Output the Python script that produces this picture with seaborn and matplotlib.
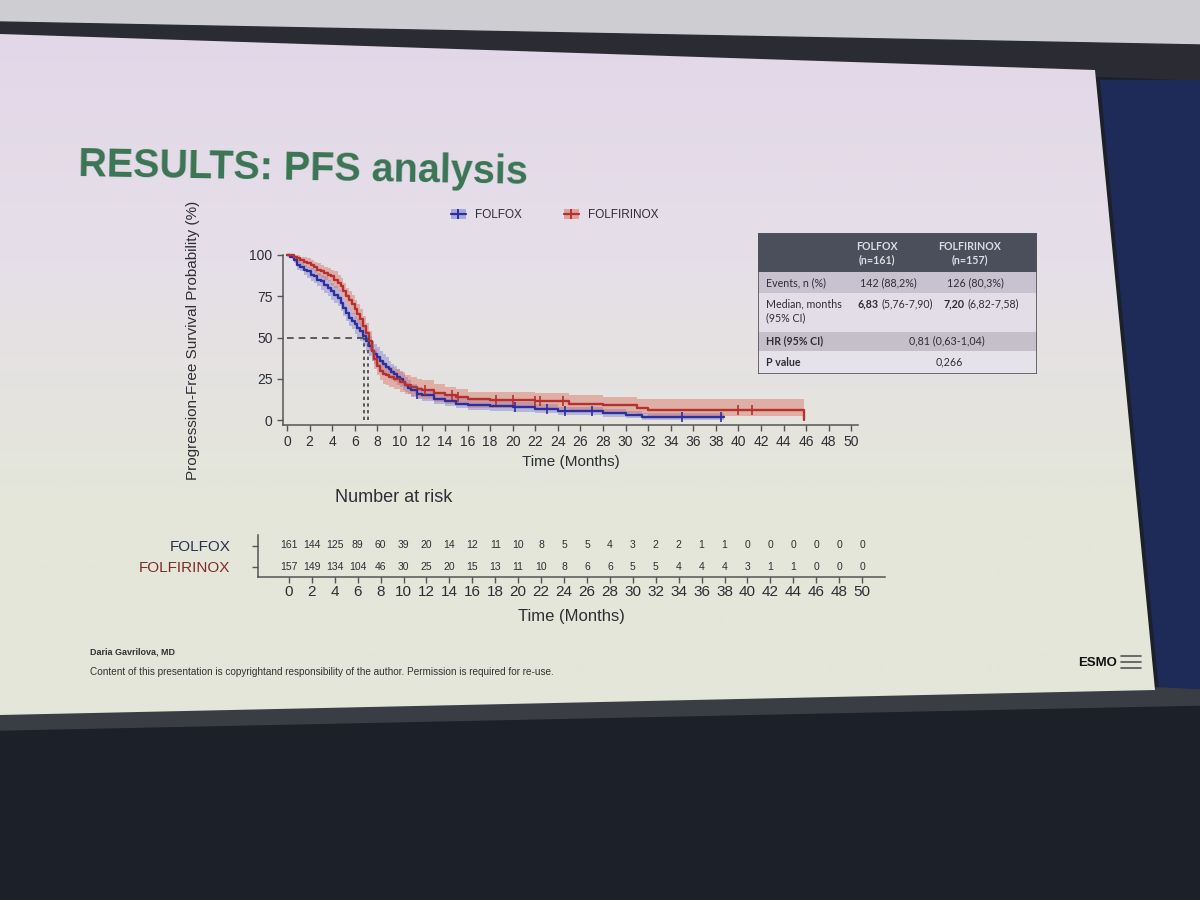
import numpy as np
import matplotlib
matplotlib.use("Agg")
import matplotlib.pyplot as plt
from matplotlib.patches import Polygon, Rectangle, Patch
from matplotlib.lines import Line2D
from matplotlib.colors import LinearSegmentedColormap
import seaborn as sns
import pandas as pd

sns.set_theme(style="white")
plt.rcParams['font.family'] = ['Liberation Sans', 'DejaVu Sans']

# ---- data ----
arms = ["FOLFOX", "FOLFIRINOX"]

folfox_t = [0, 0.3, 0.6, 0.9, 1.2, 1.5, 1.8, 2.1, 2.4, 2.7,
            3.0, 3.3, 3.6, 3.9, 4.2, 4.5, 4.75, 5.0, 5.25, 5.5,
            5.75, 6.0, 6.25, 6.5, 6.75, 7.0, 7.25, 7.5, 7.75, 8.0,
            8.25, 8.5, 8.75, 9.0, 9.25, 9.5, 9.75, 10.0, 10.25, 10.5,
            10.75, 11.0, 11.5, 12, 13, 14, 15, 16, 18, 20,
            22, 24, 28, 30, 31.5, 38.7]
folfox_s = [100, 99, 97, 94, 93, 91, 90, 88, 87, 85,
            84, 82, 80, 78, 76, 74, 71, 68, 65, 62,
            60, 58, 56, 54, 51, 48, 45, 42, 40, 38,
            36, 34, 32, 31, 29, 28, 26, 25, 23, 21,
            19.5, 18, 16, 15, 13, 11.5, 10, 9, 8.7, 8,
            6.7, 5.4, 4.2, 3.3, 1.9, 1.9]
folfox_lo = [100, 98, 95, 91, 90, 88, 86, 84, 83, 81,
             79, 77, 75, 73, 71, 69, 66, 63, 60, 57,
             55, 52, 50, 48, 45, 42, 39, 36, 34, 32,
             30, 28, 27, 26, 24, 23, 21, 20, 18, 17,
             15.5, 14, 12.5, 11.5, 10, 8.5, 7, 6, 5.5, 5,
             4, 3, 2, 1.5, 0.3, 0.3]
folfox_hi = [100, 100, 99, 97, 96, 94, 93, 92, 91, 89,
             88, 87, 85, 83, 81, 79, 76, 73, 70, 67,
             65, 63, 61, 60, 57, 54, 51, 48, 46, 44,
             42, 40, 38, 36, 34, 33, 31, 30, 28, 26,
             24, 22, 20, 19, 17, 15.5, 14, 12.5, 12, 11,
             9.5, 8, 6.5, 5.5, 4, 4]
folfox_cens = [11.5, 20.2, 23.0, 24.6, 27.0, 35.0, 38.5]

folfirinox_t = [0, 0.3, 0.6, 0.9, 1.2, 1.5, 1.8, 2.1, 2.4, 2.7,
                3.0, 3.3, 3.6, 3.9, 4.2, 4.5, 4.75, 5.0, 5.25, 5.5,
                5.75, 6.0, 6.25, 6.5, 6.75, 7.0, 7.25, 7.5, 7.75, 8.0,
                8.25, 8.5, 8.75, 9.0, 9.5, 10.0, 10.5, 11.0, 11.5, 12,
                13, 14, 15, 16, 18, 22, 25, 28, 31, 32,
                45.8]
folfirinox_s = [100, 100, 99, 98, 97, 96, 95, 94, 93, 91,
                90, 89, 88, 87, 85, 83, 81, 78, 75, 73,
                70, 67, 64, 61, 57, 53, 48, 42, 37, 33,
                30, 28, 27, 26, 25, 23, 21.5, 20, 19, 18,
                16.5, 15, 14, 12.5, 12, 11.5, 10, 9, 7.3, 5.8,
                0]
folfirinox_lo = [100, 98, 97, 95, 94, 93, 92, 91, 89, 87,
                 86, 85, 84, 82, 80, 78, 76, 73, 70, 67,
                 64, 61, 58, 55, 51, 47, 42, 36, 31, 27,
                 24, 22, 21, 20, 19, 17, 15.5, 14.5, 13.5, 12.5,
                 11, 10, 9, 7.5, 7, 6.5, 5.5, 4.5, 3.5, 2.5,
                 0]
folfirinox_hi = [100, 100, 100, 100, 99, 99, 98, 97, 96, 95,
                 94, 93, 92, 91, 90, 88, 86, 83, 80, 78,
                 76, 73, 70, 67, 63, 59, 54, 48, 43, 39,
                 36, 34, 33, 32, 31, 29, 27.5, 26, 25, 24,
                 22, 20, 19, 17, 17, 16.5, 15, 14, 12.5, 12.5,
                 0]
folfirinox_cens = [12.2, 14.6, 15.2, 18.5, 20.0, 22.0, 22.4, 24.5, 40.0, 41.2]

medians = [6.83, 7.20]

risk_times = list(range(0, 51, 2))
folfox_risk = [161, 144, 125, 89, 60, 39, 20, 14, 12, 11, 10, 8, 5, 5, 4, 3, 2, 2, 1, 1, 0, 0, 0, 0, 0, 0]
folfirinox_risk = [157, 149, 134, 104, 46, 30, 25, 20, 15, 13, 11, 10, 8, 6, 6, 5, 5, 4, 4, 4, 3, 1, 1, 0, 0, 0]

table_rows = ["Events, n (%)", "Median, months\n(95% CI)", "HR (95% CI)", "P value"]
table_events = ["142 (88,2%)", "126 (80,3%)"]
table_median = [("6,83", "(5,76-7,90)"), ("7,20", "(6,82-7,58)")]
table_hr = "0,81 (0,63-1,04)"
table_p = "0,266"

line_col = {"FOLFOX": "#2c2f9c", "FOLFIRINOX": "#b5302e"}
band_col = {"FOLFOX": "#7b7fd6", "FOLFIRINOX": "#d9705f"}
label_col = {"FOLFOX": "#2c3050", "FOLFIRINOX": "#7e2b2b"}
txt = "#2e2e35"
green = "#3a7554"

W, H = 1200, 900
fig = plt.figure(figsize=(12, 9), dpi=100)


def box(x0, y0, x1, y1):
    return [x0 / W, 1 - y1 / H, (x1 - x0) / W, (y1 - y0) / H]


def fx(x):
    return x / W


def fy(y):
    return 1 - y / H


# ---- photographed room / slide background ----
bg = fig.add_axes([0, 0, 1, 1])
bg.add_patch(Rectangle((0, 0), W, H, color="#1c2029", zorder=0))
bg.add_patch(Polygon([(0, 0), (W, 0), (W, 45), (0, 22)], color="#cdcdd2", zorder=0))
bg.add_patch(Polygon([(0, 22), (W, 45), (W, 80), (0, 34)], color="#2b2c33", zorder=0))
bg.add_patch(Polygon([(1100, 80), (W, 80), (W, 700), (1160, 700)], color="#1e2a58", zorder=0))
bg.add_patch(Polygon([(0, 712), (1160, 688), (W, 690), (W, 705), (0, 730)], color="#3a3d44", zorder=0))
slide = Polygon([(0, 34), (1095, 70), (1155, 690), (0, 715)], closed=True,
                facecolor="none", edgecolor="none")
bg.add_patch(slide)
slide_cmap = LinearSegmentedColormap.from_list("slide", ["#e2d7e8", "#e6dfe8", "#e4e6da", "#e3e6d8"])
im = bg.imshow(np.linspace(0, 1, 256)[:, None], extent=(0, 1160, 715, 30),
               cmap=slide_cmap, aspect="auto", zorder=2)
im.set_clip_path(slide)
bg.set_xlim(0, W)
bg.set_ylim(H, 0)
bg.axis("off")

# ---- title ----
fig.text(fx(78), fy(176), "RESULTS: PFS analysis", color=green, fontsize=28.5, fontweight="bold",
         ha="left", va="baseline", rotation=-1.0, rotation_mode="anchor")

# ---- Kaplan-Meier plot ----
ax = fig.add_axes(box(283, 250, 858, 425))
ax.patch.set_alpha(0)

curves = {
    "FOLFOX": (folfox_t, folfox_s, folfox_lo, folfox_hi, folfox_cens),
    "FOLFIRINOX": (folfirinox_t, folfirinox_s, folfirinox_lo, folfirinox_hi, folfirinox_cens),
}

frames = []
cens_frames = []
for arm, (t, s, lo, hi, cens) in curves.items():
    ax.fill_between(t, lo, hi, step="post", color=band_col[arm], alpha=0.45, lw=0)
    frames.append(pd.DataFrame({"time": t, "surv": s, "arm": arm}))
    t_arr, s_arr = np.asarray(t), np.asarray(s)
    idx = np.searchsorted(t_arr, cens, side="right") - 1
    cens_frames.append(pd.DataFrame({"time": cens, "surv": s_arr[idx], "arm": arm}))
km = pd.concat(frames, ignore_index=True)
km_cens = pd.concat(cens_frames, ignore_index=True)

sns.lineplot(data=km, x="time", y="surv", hue="arm", palette=line_col, estimator=None,
             sort=False, drawstyle="steps-post", lw=1.7, legend=False, ax=ax)
for arm in arms:
    sub = km_cens[km_cens["arm"] == arm]
    ax.plot(sub["time"], sub["surv"], ls="none", marker="|", ms=7, mew=1.2, color=line_col[arm])

ax.plot([0, medians[0]], [50, 50], ls=(0, (4, 3)), color="#444", lw=1.2)
for m in medians:
    ax.plot([m, m], [0, 50], ls=(0, (2, 2)), color="#444", lw=1.2)

ax.set_xlim(-0.35, 50.6)
ax.set_ylim(-3, 103)
ax.set_xticks(range(0, 51, 2))
ax.set_yticks([0, 25, 50, 75, 100])
for s in ["top", "right"]:
    ax.spines[s].set_visible(False)
for s in ["left", "bottom"]:
    ax.spines[s].set_color("#555")
    ax.spines[s].set_linewidth(1.1)
ax.spines["left"].set_bounds(-3, 100)
ax.tick_params(axis="both", direction="out", length=4, width=1, color="#555",
               labelsize=10, labelcolor=txt, left=True, bottom=True)
ax.set_xlabel("Time (Months)", fontsize=11, color=txt, labelpad=4)
ax.set_ylabel("")

fig.text(fx(193), fy(340), "Progression-Free Survival Probability (%)", rotation=90,
         ha="center", va="center", fontsize=11, color=txt)

handles = [(Patch(facecolor=band_col[a], alpha=0.55, edgecolor="none"),
            Line2D([], [], color=line_col[a], lw=1.6, marker="|", ms=7, mew=1.4)) for a in arms]
fig.legend(handles, arms, loc="center left", bbox_to_anchor=(fx(440), fy(215)), ncol=2,
           frameon=False, fontsize=8.5, handlelength=1.3, handleheight=0.9,
           handletextpad=0.8, columnspacing=3.5, labelcolor=txt)

# ---- summary table ----
tb = fig.add_axes(box(758, 233, 1037, 374))
tb.set_xlim(758, 1037)
tb.set_ylim(374, 233)
tb.axis("off")
bands = [(233, 272, "#4b4f5c"), (272, 293, "#c8c1cf"), (293, 332, "#e3dde7"),
         (332, 351, "#c5bfca"), (351, 374, "#e6e2e9")]
for y0, y1, c in bands:
    tb.add_patch(Rectangle((758, y0), 279, y1 - y0, facecolor=c, edgecolor="none"))
tb.add_patch(Rectangle((758, 233), 279, 141, facecolor="none", edgecolor="#55535a", lw=1.2))
tfont = dict(family=["Lato", "DejaVu Sans"], fontsize=7.7)
for i, arm in enumerate(arms):
    cx = [877, 970][i]
    tb.text(cx, 247, arm, color="#dcdce4", ha="center", va="center", fontweight="bold", **tfont)
    tb.text(cx, 260, "(n=%d)" % [161, 157][i], color="#dcdce4", ha="center", va="center",
            fontweight="bold", **tfont)
    tb.text([860, 947][i], 283, table_events[i], color=txt, ha="left", va="center", **tfont)
    tb.text([858, 943][i], 304, table_median[i][0], color=txt, ha="left", va="center",
            fontweight="bold", **tfont)
    tb.text([881, 967][i], 304, table_median[i][1], color=txt, ha="left", va="center", **tfont)
tb.text(766, 283, table_rows[0], color=txt, ha="left", va="center", **tfont)
tb.text(766, 304, "Median, months", color=txt, ha="left", va="center", **tfont)
tb.text(766, 318, "(95% CI)", color=txt, ha="left", va="center", **tfont)
tb.text(766, 341, table_rows[2], color=txt, ha="left", va="center", fontweight="bold", **tfont)
tb.text(766, 362, table_rows[3], color=txt, ha="left", va="center", fontweight="bold", **tfont)
tb.text(947, 341, table_hr, color=txt, ha="center", va="center", **tfont)
tb.text(949, 362, table_p, color=txt, ha="center", va="center", **tfont)

# ---- number at risk ----
fig.text(fx(335), fy(498), "Number at risk", fontsize=13, color=txt, ha="left", va="center")

ar = fig.add_axes(box(258, 535, 885, 577))
ar.patch.set_alpha(0)
ar.set_xlim(-2.7, 52.0)
ar.set_ylim(0, 2)
for t, a, b in zip(risk_times, folfox_risk, folfirinox_risk):
    ar.text(t, 1.5, str(a), ha="center", va="center", fontsize=7.5, color=txt)
    ar.text(t, 0.5, str(b), ha="center", va="center", fontsize=7.5, color=txt)
ar.set_xticks(risk_times)
ar.set_yticks([1.5, 0.5], labels=arms)
for lab, arm in zip(ar.get_yticklabels(), arms):
    lab.set_color(label_col[arm])
for s in ["top", "right"]:
    ar.spines[s].set_visible(False)
for s in ["left", "bottom"]:
    ar.spines[s].set_color("#555")
    ar.spines[s].set_linewidth(1.1)
ar.tick_params(axis="y", direction="out", length=4, width=1, color="#555", labelsize=11, pad=16,
               left=True)
ar.tick_params(axis="x", direction="out", length=4, width=1, color="#555", labelsize=11,
               labelcolor=txt, pad=2, bottom=True)
ar.set_xlabel("Time (Months)", fontsize=12, color=txt, labelpad=7)

# ---- footer ----
fig.text(fx(90), fy(652), "Daria Gavrilova, MD", fontsize=6.5, fontweight="bold", color="#333",
         ha="left", va="center")
fig.text(fx(90), fy(672), "Content of this presentation is copyrightand responsibility of the author. "
         "Permission is required for re-use.", fontsize=7.2, color="#333",
         ha="left", va="center")
fig.text(fx(1078), fy(663), "ESMO", fontsize=9.5, fontweight="bold", color="#111",
         ha="left", va="center")
for yy in [656, 662, 668]:
    bg.plot([1121, 1141], [yy, yy], color="#555", lw=1.2, zorder=3)

fig.savefig("out.png", dpi=100)
